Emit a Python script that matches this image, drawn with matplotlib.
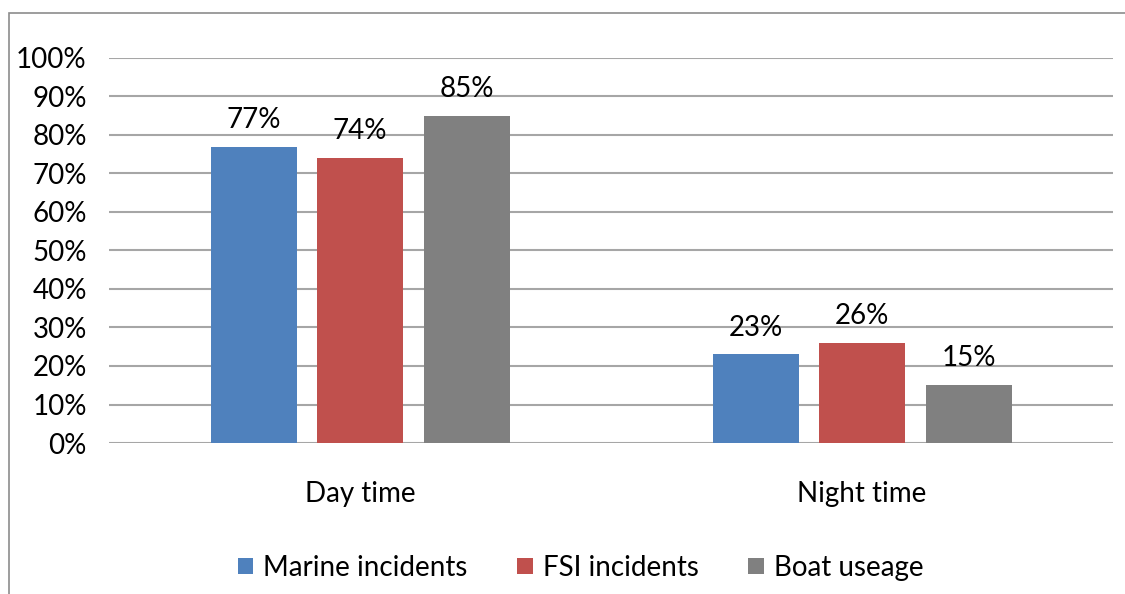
import matplotlib
matplotlib.use('Agg')
import numpy as np
from matplotlib import pyplot as plt
from matplotlib.patches import Rectangle

plt.rcParams['font.family'] = ['Lato', 'DejaVu Sans']

categories = ['Day time', 'Night time']
series_names = ['Marine incidents', 'FSI incidents', 'Boat useage']
marine = [0.77, 0.23]
fsi = [0.74, 0.26]
boat = [0.85, 0.15]
colors = ['#4F81BD', '#C0504D', '#808080']
yticks = [0, 0.1, 0.2, 0.3, 0.4, 0.5, 0.6, 0.7, 0.8, 0.9, 1.0]

FS = 20


def plot():
    fig = plt.figure(figsize=(11.25, 5.94), dpi=100)
    ax = fig.add_axes([0.0969, 0.2542, 0.8924, 0.6482])

    # outer chart frame, runs off the right and bottom edges
    fig.patches.append(Rectangle((9 / 1125, -0.05), 1.2, 1 - 13 / 594 + 0.05,
                                 transform=fig.transFigure, fill=False,
                                 edgecolor='#8c8c8c', linewidth=1.2))

    x = np.arange(len(categories))
    width = 0.17
    offsets = [-0.211, 0.0, 0.213]
    for vals, name, col, off in zip([marine, fsi, boat], series_names, colors, offsets):
        bars = ax.bar(x + off, vals, width, color=col, label=name, zorder=3)
        for b, v in zip(bars, vals):
            ax.annotate('%d%%' % round(v * 100),
                        (b.get_x() + b.get_width() / 2, v),
                        xytext=(0, 10), textcoords='offset points',
                        ha='center', va='bottom', fontsize=FS)

    ax.set_xlim(-0.5, 1.5)
    ax.set_ylim(0, 1)
    ax.set_yticks(yticks)
    ax.set_yticklabels(['%d%%' % round(t * 100) for t in yticks], fontsize=FS)
    ax.set_xticks(x)
    ax.set_xticklabels(categories, fontsize=FS)
    ax.tick_params(axis='y', length=0, pad=16)
    ax.tick_params(axis='x', length=0, pad=27)
    ax.yaxis.grid(True, color='#a6a6a6', linewidth=1.5, zorder=0)
    for s in ax.spines.values():
        s.set_visible(False)

    fig.legend(loc='center', bbox_to_anchor=(0.516, 0.044), ncol=3, frameon=False,
               fontsize=FS, handlelength=0.55, handleheight=0.55,
               handletextpad=0.36, columnspacing=1.8)

    fig.savefig('out.png', dpi=100)


plot()
